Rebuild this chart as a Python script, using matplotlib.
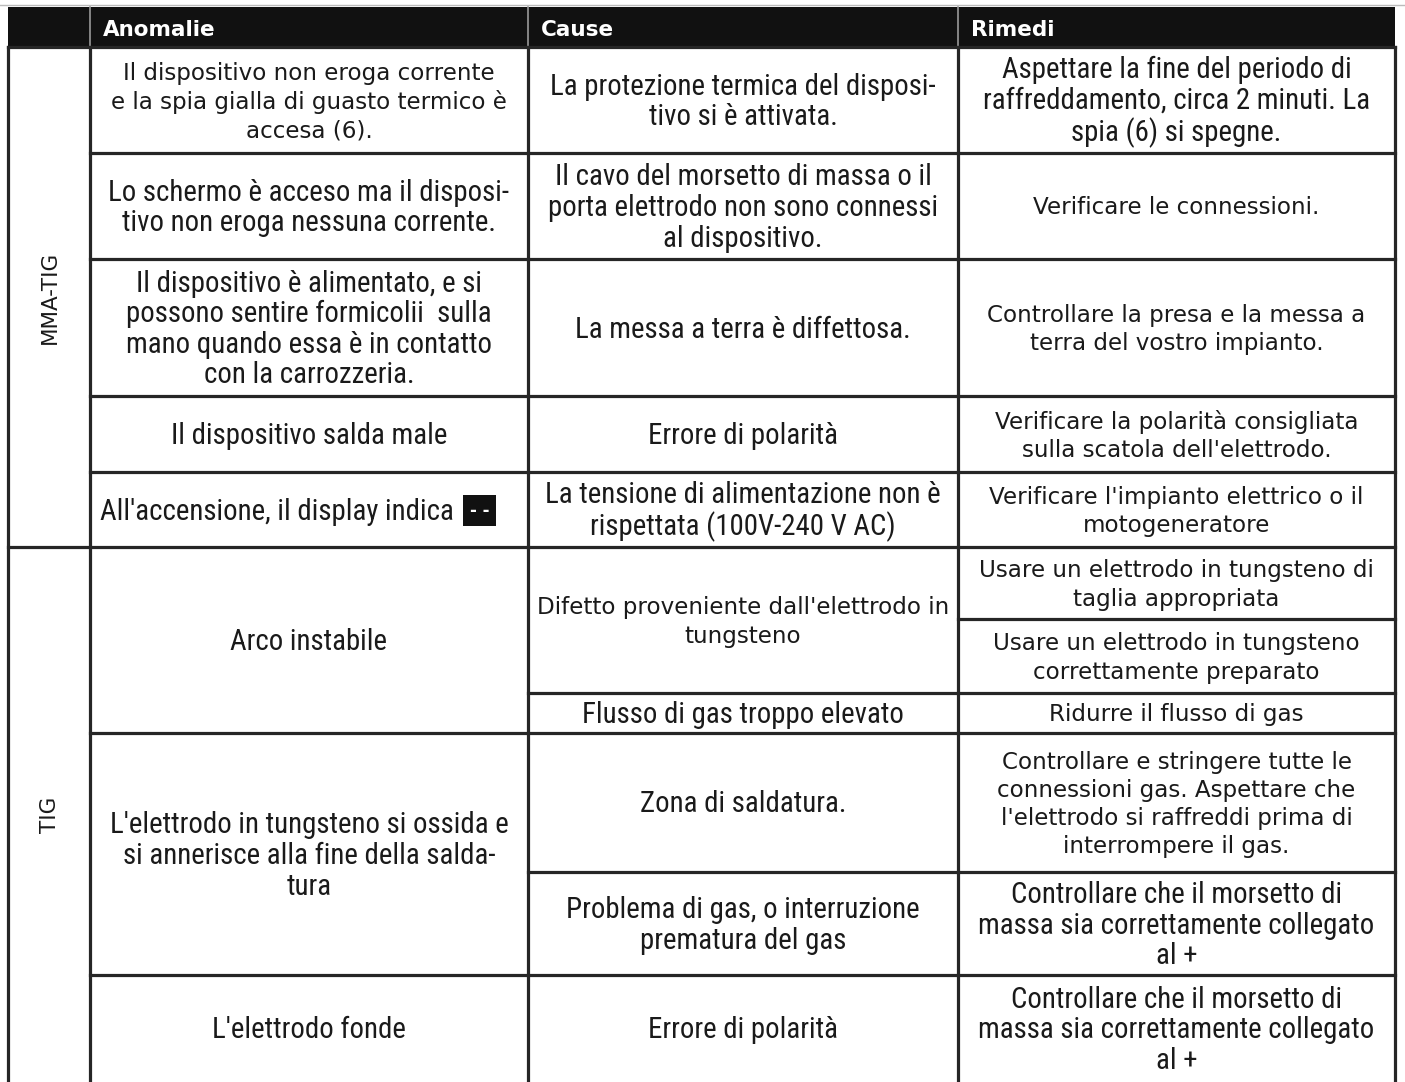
import matplotlib
matplotlib.use("Agg")
import matplotlib.pyplot as plt
from matplotlib import font_manager

# table contents
headers = ["Anomalie", "Cause", "Rimedi"]
groups = ["MMA-TIG", "TIG"]

anomalie = [
    "Il dispositivo non eroga corrente\ne la spia gialla di guasto termico è\naccesa (6).",
    "Lo schermo è acceso ma il disposi-\ntivo non eroga nessuna corrente.",
    "Il dispositivo è alimentato, e si\npossono sentire formicolii  sulla\nmano quando essa è in contatto\ncon la carrozzeria.",
    "Il dispositivo salda male",
    "All'accensione, il display indica",
    "Arco instabile",
    "L'elettrodo in tungsteno si ossida e\nsi annerisce alla fine della salda-\ntura",
    "L'elettrodo fonde",
]
cause = [
    "La protezione termica del disposi-\ntivo si è attivata.",
    "Il cavo del morsetto di massa o il\nporta elettrodo non sono connessi\nal dispositivo.",
    "La messa a terra è diffettosa.",
    "Errore di polarità",
    "La tensione di alimentazione non è\nrispettata (100V-240 V AC)",
    "Difetto proveniente dall'elettrodo in\ntungsteno",
    "Flusso di gas troppo elevato",
    "Zona di saldatura.",
    "Problema di gas, o interruzione\nprematura del gas",
    "Errore di polarità",
]
rimedi = [
    "Aspettare la fine del periodo di\nraffreddamento, circa 2 minuti. La\nspia (6) si spegne.",
    "Verificare le connessioni.",
    "Controllare la presa e la messa a\nterra del vostro impianto.",
    "Verificare la polarità consigliata\nsulla scatola dell'elettrodo.",
    "Verificare l'impianto elettrico o il\nmotogeneratore",
    "Usare un elettrodo in tungsteno di\ntaglia appropriata",
    "Usare un elettrodo in tungsteno\ncorrettamente preparato",
    "Ridurre il flusso di gas",
    "Controllare e stringere tutte le\nconnessioni gas. Aspettare che\nl'elettrodo si raffreddi prima di\ninterrompere il gas.",
    "Controllare che il morsetto di\nmassa sia correttamente collegato\nal +",
    "Controllare che il morsetto di\nmassa sia correttamente collegato\nal +",
]
display_code = "- -"

# layout (pixels)
W, H = 1405, 1082
col_x = [8, 90, 528, 958, 1395]
head_top, head_bot = 7, 47
row_y = [47, 153, 259, 396, 472, 547, 619, 693, 733, 872, 975, 1110]
group_span = [(0, 5), (5, 11)]
anom_span = [(0, 1), (1, 2), (2, 3), (3, 4), (4, 5), (5, 8), (8, 10), (10, 11)]
cause_span = [(0, 1), (1, 2), (2, 3), (3, 4), (4, 5), (5, 7), (7, 8), (8, 9), (9, 10), (10, 11)]
rimedi_span = [(i, i + 1) for i in range(11)]
# cells set in the wide (Tahoma-like) face, the rest are narrow
anom_wide = [0]
cause_wide = [5]
rimedi_wide = [1, 2, 3, 4, 5, 6, 7, 8]

names = {f.name for f in font_manager.fontManager.ttflist}
narrow = "DejaVu Sans"
for n in ["Liberation Sans Narrow", "Arial Narrow", "Roboto Condensed", "PT Sans Narrow", "Archivo Narrow"]:
    if n in names:
        narrow = n
        break
wide = "DejaVu Sans"
fs_w = 16.6
fs_n = 20.8
line_px = 29.5
lc = "#262626"
lw = 2.3

fig = plt.figure(figsize=(W / 100, H / 100), dpi=100)
ax = fig.add_axes([0, 0, 1, 1])
ax.set_xlim(0, W)
ax.set_ylim(H, 0)
ax.axis("off")

# header
ax.fill_between([col_x[0], col_x[-1]], head_top, head_bot, color="#111111", lw=0)
ax.plot([0, W], [5, 5], color="#bbbbbb", lw=1)
for i, h in enumerate(headers):
    ax.text(col_x[i + 1] + 13, (head_top + head_bot) / 2 + 3, h, color="white",
            fontsize=15.5, fontweight="bold", family=wide, va="center", ha="left")
for x in col_x[1:-1]:
    ax.plot([x, x], [head_top, head_bot], color="#999999", lw=1.2)


def span_y(span):
    y0, y1 = row_y[span[0]], row_y[span[1]]
    if span[1] == len(row_y) - 1:
        y1 = H
    return y0, y1


def cell(ci, span, text, is_wide):
    y0, y1 = span_y(span)
    xc = (col_x[ci] + col_x[ci + 1]) / 2
    size = fs_w if is_wide else fs_n
    k = 1.0 if is_wide else 0.915
    ax.text(xc, (y0 + y1) / 2 + 2, text, ha="center", va="center",
            family=wide if is_wide else narrow, fontsize=size,
            linespacing=line_px / (size * 100 / 72 * k), color="#1a1a1a")


def boxes(ci, spans):
    for s in spans:
        y1 = row_y[s[1]]
        ax.plot([col_x[ci], col_x[ci + 1]], [y1, y1], color=lc, lw=lw)


# grid lines
for x in col_x:
    ax.plot([x, x], [head_bot, row_y[-1]], color=lc, lw=lw)
ax.plot([col_x[0], col_x[-1]], [head_bot, head_bot], color=lc, lw=lw)
for s in group_span:
    ax.plot([col_x[0], col_x[1]], [row_y[s[1]], row_y[s[1]]], color=lc, lw=lw)
boxes(1, anom_span)
boxes(2, cause_span)
boxes(3, rimedi_span)

for g, s in zip(groups, group_span):
    y0, y1 = span_y(s)
    ax.text((col_x[0] + col_x[1]) / 2 + 1, (y0 + y1) / 2, g, rotation=90, ha="center",
            va="center", family=wide, fontsize=15.5, color="#1a1a1a")

for i, (t, s) in enumerate(zip(anomalie, anom_span)):
    if i == 4:
        y0, y1 = span_y(s)
        y = (y0 + y1) / 2 + 2
        ax.text(col_x[1] + 10, y, t, ha="left", va="center", family=narrow,
                fontsize=fs_n, color="#1a1a1a")
        ax.text(col_x[2] - 58, y - 1, display_code, ha="left", va="center",
                family=wide, fontsize=12, color="white", fontweight="bold",
                bbox=dict(boxstyle="square,pad=0.4", fc="#111111", ec="none"))
    else:
        cell(1, s, t, i in anom_wide)

for i, (t, s) in enumerate(zip(cause, cause_span)):
    cell(2, s, t, i in cause_wide)

for i, (t, s) in enumerate(zip(rimedi, rimedi_span)):
    cell(3, s, t, i in rimedi_wide)

fig.savefig("out.png", dpi=100)
